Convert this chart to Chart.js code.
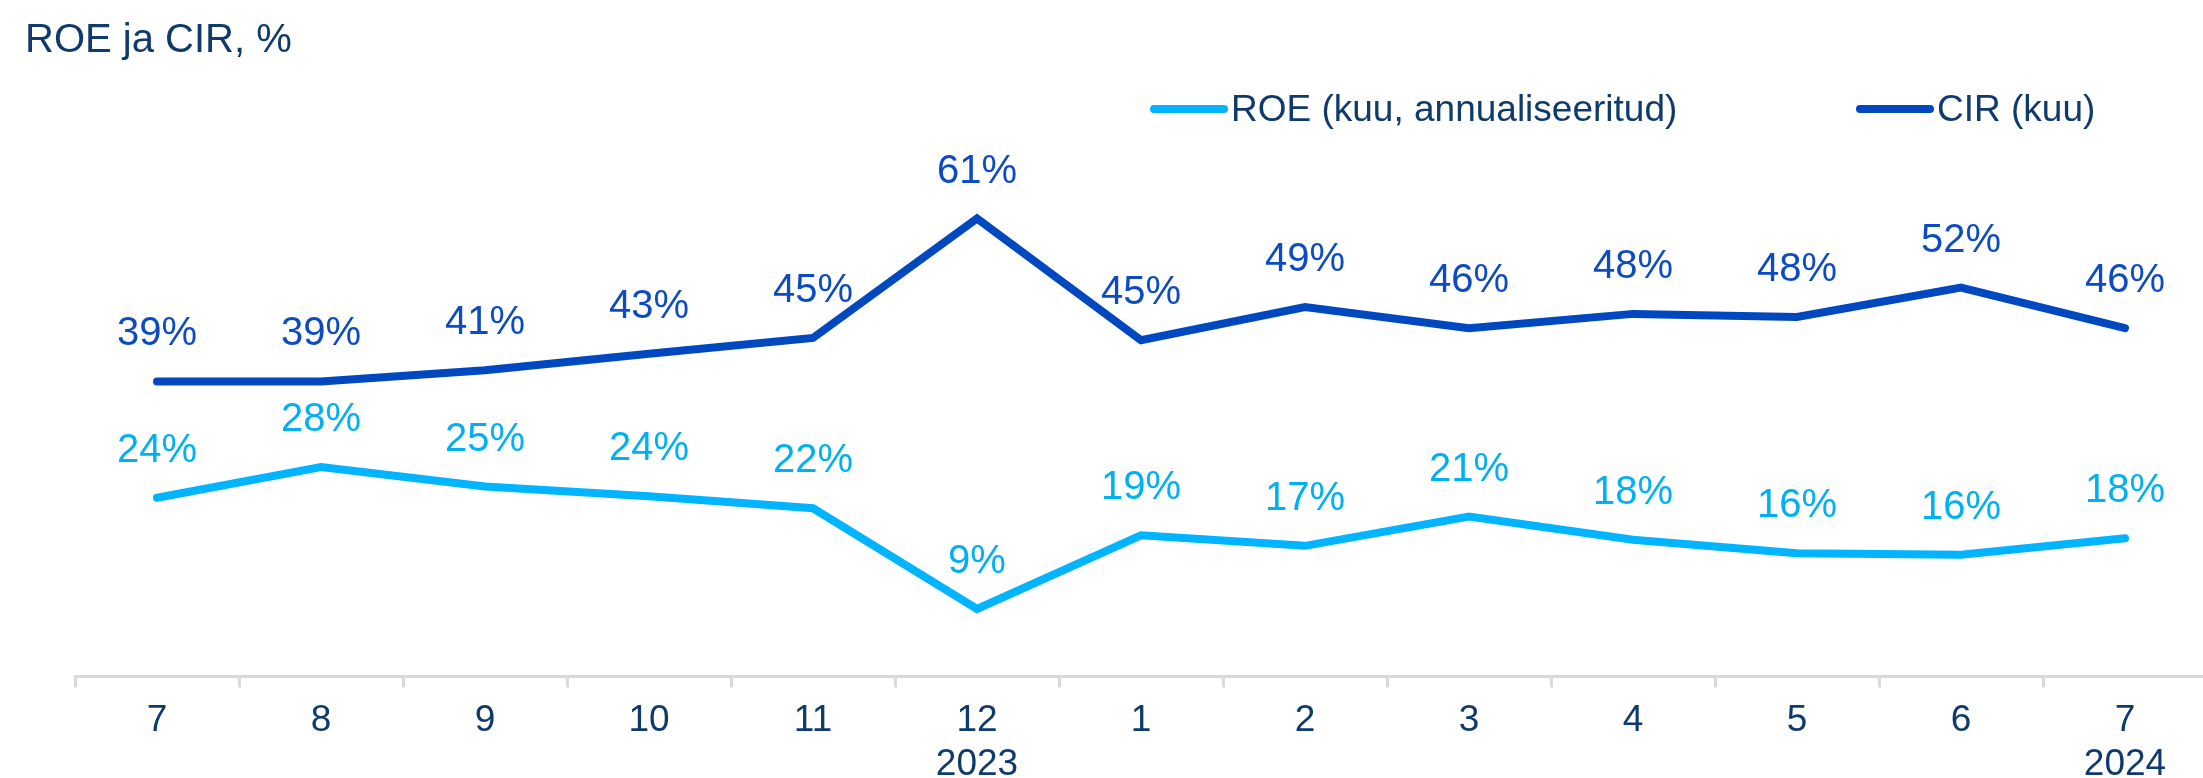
<!DOCTYPE html>
<html>
<head>
<meta charset="utf-8">
<script src="https://cdn.jsdelivr.net/npm/chart.js@4"></script>
<style>
    html, body { margin: 0; padding: 0; background: #fff; overflow: hidden; }
</style>
</head>
<body>
<canvas id="roeChart" width="2210" height="798"></canvas>
<script>
// andmed
const months = ['7', '8', '9', '10', '11', '12', '1', '2', '3', '4', '5', '6', '7'];
const years = ['', '', '', '', '', '2023', '', '', '', '', '', '', '2024'];
const roeValues = [23.8, 27.9, 25.3, 24.0, 22.4, 9.0, 18.8, 17.4, 21.3, 18.2, 16.4, 16.2, 18.4];
const cirValues = [39.3, 39.3, 40.8, 43.0, 45.1, 61.0, 44.8, 49.2, 46.4, 48.3, 47.9, 51.8, 46.4];
const seriesNames = ['ROE (kuu, annualiseeritud)', 'CIR (kuu)'];
const chartTitle = 'ROE ja CIR, %';

const FONT = '"Liberation Sans", Arial, sans-serif';
const TEXT_COLOR = '#0e3a6c';

const labels = months.map((m, i) => years[i] ? [m, years[i]] : m);

// pealkiri, legend ja väärtused punktide kohal
const decorPlugin = {
    id: 'decor',
    afterDatasetsDraw(chart) {
        const ctx = chart.ctx;
        ctx.save();
        ctx.textAlign = 'center';
        ctx.textBaseline = 'middle';
        ctx.font = '40px ' + FONT;
        chart.data.datasets.forEach((ds, i) => {
            const meta = chart.getDatasetMeta(i);
            ctx.fillStyle = ds.labelColor;
            meta.data.forEach((pt, j) => {
                ctx.fillText(Math.round(ds.data[j]) + '%', pt.x, pt.y - 47);
            });
        });
        ctx.restore();
    },
    afterDraw(chart) {
        const ctx = chart.ctx;
        ctx.save();
        ctx.fillStyle = TEXT_COLOR;
        ctx.textAlign = 'left';
        ctx.textBaseline = 'alphabetic';
        ctx.font = '40px ' + FONT;
        ctx.fillText(chartTitle, 25, 52);

        const legendX = [1154, 1860];
        ctx.font = '37px ' + FONT;
        chart.data.datasets.forEach((ds, i) => {
            const x = legendX[i];
            ctx.strokeStyle = ds.borderColor;
            ctx.lineWidth = 8;
            ctx.lineCap = 'round';
            ctx.beginPath();
            ctx.moveTo(x, 109);
            ctx.lineTo(x + 70, 109);
            ctx.stroke();
            ctx.fillStyle = TEXT_COLOR;
            ctx.fillText(ds.label, x + 77, 121);
        });
        ctx.restore();
    }
};

new Chart(document.getElementById('roeChart').getContext('2d'), {
    type: 'line',
    data: {
        labels: labels,
        datasets: [
            {
                label: seriesNames[0],
                data: roeValues,
                borderColor: '#00b4ff',
                labelColor: '#00b0f4',
                borderWidth: 8,
                pointRadius: 0,
                tension: 0,
                borderCapStyle: 'round',
                borderJoinStyle: 'miter',
                fill: false
            },
            {
                label: seriesNames[1],
                data: cirValues,
                borderColor: '#0048c0',
                labelColor: '#0c4bc2',
                borderWidth: 8,
                pointRadius: 0,
                tension: 0,
                borderCapStyle: 'round',
                borderJoinStyle: 'miter',
                fill: false
            }
        ]
    },
    options: {
        responsive: false,
        animation: false,
        layout: {
            padding: { top: 136, left: 75, right: 3, bottom: 0 }
        },
        plugins: {
            legend: { display: false },
            title: { display: false },
            tooltip: { enabled: false }
        },
        scales: {
            x: {
                offset: true,
                grid: {
                    offset: true,
                    drawOnChartArea: false,
                    drawTicks: true,
                    tickLength: 11,
                    color: '#d9d9d9',
                    lineWidth: 3
                },
                border: { display: true, color: '#d9d9d9', width: 3 },
                ticks: {
                    color: TEXT_COLOR,
                    font: { family: FONT, size: 37, lineHeight: 1.17 },
                    padding: 12,
                    maxRotation: 0,
                    autoSkip: false
                }
            },
            y: {
                display: false,
                min: 0,
                max: 72
            }
        }
    },
    plugins: [decorPlugin]
});
</script>
</body>
</html>
